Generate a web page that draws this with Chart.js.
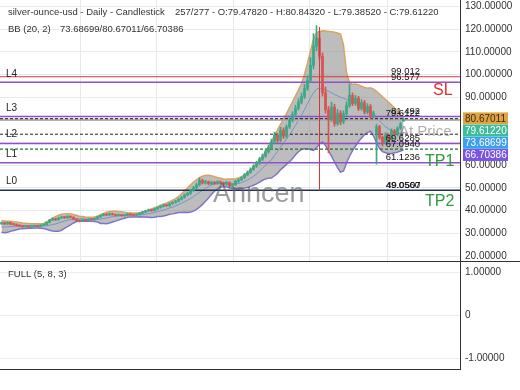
<!DOCTYPE html>
<html>
<head>
<meta charset="utf-8">
<script src="https://cdn.jsdelivr.net/npm/chart.js@4.4.1/dist/chart.umd.min.js"></script>
<style>
  html, body { margin: 0; padding: 0; background: #fff; }
  #wrap { position: relative; width: 520px; height: 390px; overflow: hidden; }
  #main { position: absolute; left: 0; top: 0; }
  #osc { position: absolute; left: 0; top: 262px; }
</style>
</head>
<body>
<div id="wrap">
  <canvas id="main" width="520" height="262"></canvas>
  <canvas id="osc" width="520" height="128"></canvas>
</div>
<script>
// candles, one per slot (oldest first)
const opens = [
  34.3, 34.6, 34.2, 34.8, 34.1, 33.9, 33.5, 33.2, 32.9, 33.1,
  32.8, 33.0, 33.3, 33.1, 33.6, 33.9, 34.8, 35.9, 36.4, 36.0,
  36.8, 37.2, 36.9, 37.5, 37.1, 36.3, 35.6, 35.4, 35.9, 35.7,
  36.2, 36.0, 36.6, 37.3, 37.9, 38.4, 38.1, 38.6, 38.3, 37.9,
  38.2, 37.8, 38.1, 38.5, 38.2, 38.0, 38.4, 38.9, 39.4, 39.9,
  40.3, 40.1, 40.8, 41.4, 41.9, 42.5, 42.2, 43.1, 43.6, 44.2,
  45.0, 45.8, 46.9, 47.6, 48.9, 50.1, 51.3, 53.4, 52.2, 52.8,
  51.9, 52.5, 52.0, 52.7, 52.3, 51.6, 52.4, 50.8, 51.5, 52.9,
  53.6, 54.5, 55.8, 56.9, 58.2, 59.6, 61.0, 62.7, 64.1, 66.0,
  67.8, 70.5, 73.2, 71.0, 75.4, 72.8, 76.9, 79.8, 82.4, 85.1,
  87.9, 90.3, 93.8, 97.5, 104.0, 112.5, 116.0, 108.0, 92.0, 84.5,
  80.2, 85.6, 78.4, 83.0, 79.1, 82.7, 86.4, 90.8, 87.2, 89.5,
  85.0, 87.6, 83.4, 85.9, 81.5, 74.0, 77.0, 72.3, 70.1, 73.5,
  71.8, 75.2, 73.6, 76.4, 79.4782
];
const highs = [
  35.0, 34.9, 35.1, 35.0, 34.4, 34.2, 33.8, 33.5, 33.4, 33.3,
  33.3, 33.6, 33.6, 33.9, 34.2, 35.1, 36.2, 36.9, 36.7, 37.1,
  37.6, 37.5, 37.8, 37.7, 37.3, 36.5, 35.9, 36.3, 36.1, 36.5,
  36.5, 36.9, 37.6, 38.2, 38.8, 38.7, 39.0, 38.9, 38.5, 38.5,
  38.4, 38.4, 38.9, 38.7, 38.4, 38.7, 39.2, 39.7, 40.2, 40.7,
  40.6, 41.1, 41.7, 42.3, 42.9, 42.8, 43.5, 44.0, 44.6, 45.5,
  46.3, 47.4, 48.1, 49.4, 50.7, 52.0, 54.6, 53.9, 53.4, 53.1,
  53.0, 52.9, 53.2, 53.1, 52.6, 52.9, 52.7, 51.9, 53.4, 54.1,
  55.0, 56.4, 57.5, 58.9, 60.3, 61.8, 63.5, 65.0, 66.9, 68.9,
  71.5, 74.6, 74.0, 76.8, 76.5, 77.8, 80.9, 83.6, 86.5, 89.3,
  91.8, 95.6, 99.4, 107.5, 118.0, 121.5, 119.0, 109.5, 94.5, 86.0,
  87.8, 86.9, 84.6, 84.1, 84.0, 88.0, 95.8, 91.9, 90.8, 90.4,
  88.9, 88.6, 87.2, 86.8, 83.9, 78.0, 77.6, 72.9, 74.4, 74.0,
  76.1, 75.8, 77.0, 78.9, 80.8432
];
const lows = [
  33.9, 33.9, 33.9, 33.8, 33.6, 33.2, 32.9, 32.6, 32.7, 32.5,
  32.6, 32.8, 32.9, 32.9, 33.4, 33.7, 34.6, 35.6, 35.7, 35.8,
  36.6, 36.6, 36.6, 36.8, 36.0, 35.3, 35.1, 35.2, 35.4, 35.5,
  35.8, 35.8, 36.4, 37.0, 37.7, 37.8, 37.9, 38.0, 37.6, 37.6,
  37.5, 37.5, 37.8, 37.9, 37.7, 37.7, 38.1, 38.6, 39.1, 39.6,
  39.7, 39.8, 40.5, 41.1, 41.6, 41.9, 41.9, 42.8, 43.3, 43.9,
  44.7, 45.5, 46.5, 47.2, 48.5, 49.7, 50.9, 51.7, 51.7, 51.4,
  51.4, 51.6, 51.6, 51.9, 51.1, 51.2, 50.2, 50.3, 51.1, 52.5,
  53.2, 54.1, 55.3, 56.4, 57.7, 59.1, 60.4, 62.1, 63.5, 65.3,
  67.1, 69.6, 70.1, 70.4, 71.8, 72.0, 76.2, 79.0, 81.6, 84.3,
  87.0, 89.4, 92.9, 96.5, 102.5, 110.5, 106.5, 90.5, 83.0, 65.5,
  79.3, 77.2, 77.6, 77.9, 78.3, 81.9, 85.5, 86.3, 86.4, 84.1,
  84.3, 82.6, 82.7, 80.6, 80.8, 60.5, 71.5, 68.5, 69.4, 70.9,
  71.0, 72.8, 72.9, 75.8, 79.3852
];
const closes = [
  34.6, 34.2, 34.8, 34.1, 33.9, 33.5, 33.2, 32.9, 33.1, 32.8,
  33.0, 33.3, 33.1, 33.6, 33.9, 34.8, 35.9, 36.4, 36.0, 36.8,
  37.2, 36.9, 37.5, 37.1, 36.3, 35.6, 35.4, 35.9, 35.7, 36.2,
  36.0, 36.6, 37.3, 37.9, 38.4, 38.1, 38.6, 38.3, 37.9, 38.2,
  37.8, 38.1, 38.5, 38.2, 38.0, 38.4, 38.9, 39.4, 39.9, 40.3,
  40.1, 40.8, 41.4, 41.9, 42.5, 42.2, 43.1, 43.6, 44.2, 45.0,
  45.8, 46.9, 47.6, 48.9, 50.1, 51.3, 53.4, 52.2, 52.8, 51.9,
  52.5, 52.0, 52.7, 52.3, 51.6, 52.4, 50.8, 51.5, 52.9, 53.6,
  54.5, 55.8, 56.9, 58.2, 59.6, 61.0, 62.7, 64.1, 66.0, 67.8,
  70.5, 73.2, 71.0, 75.4, 72.8, 76.9, 79.8, 82.4, 85.1, 87.9,
  90.3, 93.8, 97.5, 104.0, 112.5, 116.0, 108.0, 92.0, 84.5, 80.2,
  85.6, 78.4, 83.0, 79.1, 82.7, 86.4, 90.8, 87.2, 89.5, 85.0,
  87.6, 83.4, 85.9, 81.5, 82.8, 77.0, 72.3, 70.1, 73.5, 71.8,
  75.2, 73.6, 76.4, 78.2, 79.6122
];

// Bollinger (20, 2)
const bbUpper = [
  35.6, 35.5, 35.4, 35.3, 35.1, 35.0, 34.8, 34.6, 34.5, 34.4,
  34.3, 34.3, 34.3, 34.3, 34.4, 35.0, 35.8, 36.7, 37.4, 38.0,
  38.4, 38.6, 38.7, 38.6, 38.3, 38.0, 37.6, 37.4, 37.2, 37.1,
  37.1, 37.2, 37.6, 38.2, 38.8, 39.3, 39.6, 39.8, 39.8, 39.7,
  39.5, 39.3, 39.1, 39.0, 39.0, 39.0, 39.1, 39.4, 39.8, 40.3,
  40.8, 41.3, 41.8, 42.4, 42.9, 43.4, 44.0, 44.6, 45.3, 46.2,
  47.4, 48.7, 50.0, 51.4, 52.6, 53.6, 54.6, 55.2, 55.6, 55.6,
  55.4, 55.0, 54.6, 54.3, 54.0, 53.9, 54.0, 54.0, 54.1, 54.4,
  55.0, 55.8, 56.8, 57.9, 59.2, 60.6, 62.2, 64.0, 66.0, 68.2,
  70.6, 73.2, 75.6, 78.0, 80.4, 82.8, 85.4, 88.0, 90.6, 93.2,
  96.0, 100.0, 105.0, 110.5, 115.5, 118.5, 119.0, 119.3, 119.2, 119.0,
  118.8, 118.6, 118.3, 117.8, 113.0, 101.0, 96.5, 95.6, 95.8, 95.4,
  94.8, 94.3, 94.0, 94.2, 93.6, 92.6, 91.4, 90.2, 89.0, 87.9,
  86.6, 85.2, 83.8, 82.2, 80.67011
];
const bbMiddle = [
  32.8, 32.8, 32.9, 33.0, 33.1, 33.2, 33.3, 33.4, 33.4, 33.4,
  33.4, 33.4, 33.3, 33.3, 33.3, 33.4, 33.6, 33.9, 34.2, 34.6,
  35.0, 35.4, 35.8, 36.1, 36.3, 36.4, 36.4, 36.4, 36.3, 36.3,
  36.2, 36.2, 36.2, 36.3, 36.6, 36.8, 37.1, 37.4, 37.6, 37.8,
  37.9, 38.0, 38.1, 38.1, 38.1, 38.1, 38.2, 38.3, 38.5, 38.7,
  38.9, 39.2, 39.6, 39.9, 40.3, 40.7, 41.2, 41.6, 42.1, 42.7,
  43.3, 44.0, 44.6, 45.4, 46.2, 47.1, 48.1, 49.0, 49.9, 50.6,
  51.3, 51.8, 52.1, 52.3, 52.3, 52.2, 52.0, 51.9, 52.0, 52.0,
  52.4, 52.9, 53.5, 54.3, 55.2, 56.2, 57.4, 58.7, 60.0, 61.3,
  62.5, 64.3, 66.0, 68.0, 69.8, 71.6, 73.5, 75.5, 77.6, 79.8,
  82.0, 84.5, 87.2, 89.8, 92.0, 93.5, 94.0, 93.8, 93.3, 92.6,
  91.9, 91.2, 90.6, 90.0, 89.5, 89.0, 88.6, 88.2, 87.7, 87.2,
  86.6, 85.9, 85.0, 84.0, 83.0, 81.0, 79.6, 78.2, 77.0, 76.0,
  75.3, 74.7, 74.2, 73.9, 73.68699
];
const bbLower = [
  30.5, 30.3, 30.5, 30.9, 31.3, 31.6, 31.9, 32.1, 32.2, 32.3,
  32.3, 32.4, 32.4, 32.3, 32.2, 31.8, 31.4, 31.1, 30.9, 30.9,
  31.4, 32.2, 33.0, 33.8, 34.6, 35.2, 35.3, 35.4, 35.5, 35.4,
  35.3, 35.2, 35.0, 34.4, 34.4, 34.3, 34.6, 35.0, 35.4, 35.9,
  36.3, 36.7, 37.1, 37.2, 37.2, 37.2, 37.3, 37.2, 37.2, 37.1,
  37.0, 37.1, 37.4, 37.4, 37.7, 38.0, 38.4, 38.6, 38.9, 39.2,
  39.2, 39.3, 39.2, 39.4, 39.8, 40.6, 41.6, 42.8, 44.2, 45.6,
  47.2, 48.6, 49.6, 50.3, 50.6, 50.5, 50.0, 49.8, 49.9, 49.6,
  49.8, 50.0, 50.2, 50.7, 51.2, 51.8, 52.6, 53.4, 54.0, 54.4,
  54.4, 55.4, 56.4, 58.0, 59.2, 60.4, 61.6, 63.0, 64.6, 66.0,
  67.0, 67.3, 67.3, 67.0, 66.6, 67.8, 69.5, 70.3, 68.8, 66.5,
  64.0, 61.5, 59.0, 57.0, 57.5, 61.0, 64.0, 66.5, 68.5, 70.5,
  72.0, 73.5, 74.5, 75.0, 73.0, 70.0, 67.5, 66.0, 65.5, 65.2,
  65.2, 65.5, 65.8, 66.3, 66.70386
];

// horizontal levels drawn across the chart
const levelPrices = [99.012, 96.577, 81.492, 80.53, 73.687, 69.6285, 67.094, 61.1236, 49.056];
const levelColors = ['#d43a36', '#9150c9', '#9150c9', '#222', '#222', '#9150c9', '#2c6e2c', '#9150c9', '#22304e'];
const levelDashes = [[], [], [], [3, 2], [3, 2], [], [3, 2], [], []];
const levelWidths = [1, 1.5, 1.5, 1, 1, 1.5, 1.2, 1.5, 1.5];
const levelTexts = ['99.012', '96.577', '81.492', '79.6122', '', '69.6285', '67.0940', '61.1236', '49.0560'];
const zoneRange = [79.55, 80.53];
const levelNames = [['L4', 100.1], ['L3', 85.0], ['L2', 73.8], ['L1', 64.9], ['L0', 53.1]];
const zoneNames = [['SL', 92.7, '#e0302c'], ['TP1', 61.5, '#2f9a3e'], ['TP2', 43.8, '#2f9a3e']];
const markerIndex = 106;
const markerRange = [120.8, 49.056];

// price tags on the right axis
const tagValues = ['80.67011', '79.61220', '73.68699', '66.70386'];
const tagColors = ['#dea443', '#3cbd99', '#3b9ff0', '#7a55e4'];
const tagTextColors = ['#3a2a05', '#fff', '#fff', '#fff'];

const yTickValues = [20, 30, 40, 50, 60, 70, 80, 90, 100, 110, 120, 130];
const oscTickValues = [-1, 0, 1];
const xGridTicks = [26.17, 51.83, 77.17, 102.83, 128.5];
const fullK = [];

const xMin = -0.5, xMax = 152.83;
const FONT = '"Liberation Sans", Arial, sans-serif';
Chart.defaults.font.family = FONT;

const upColor = '#3aa886', downColor = '#d9534f';
const candleColors = closes.map((c, i) => c >= opens[i] ? upColor : downColor);

function flatLine(v) { return [{x: xMin, y: v}, {x: xMax, y: v}]; }
function series(arr) { return arr.map((v, i) => ({x: i, y: v})); }
// keep the axis from shrinking the plot to fit its edge labels
function fitRightAxis(s) { s.width = 60; s.paddingTop = 0; s.paddingBottom = 0; }

const datasets = [];
datasets.push({
  type: 'bar', data: closes.map((c, i) => ({x: i, y: [lows[i], highs[i]]})),
  backgroundColor: candleColors, barThickness: 1, grouped: false, order: 2
});
datasets.push({
  type: 'bar', data: closes.map((c, i) => ({x: i, y: [opens[i], c]})),
  backgroundColor: candleColors, barThickness: 2, minBarLength: 1, grouped: false, order: 1
});
// bands: upper filled down to lower
datasets.push({ type: 'line', data: series(bbLower), borderColor: '#7d6ee0', borderWidth: 1.5, pointRadius: 0, fill: false, order: 32 });
datasets.push({ type: 'line', data: series(bbUpper), borderColor: '#d8a560', borderWidth: 1.5, pointRadius: 0,
  fill: {target: 2}, backgroundColor: 'rgba(135,135,135,0.55)', order: 31 });
datasets.push({ type: 'line', data: series(bbMiddle), borderColor: '#6f93cf', borderWidth: 1, pointRadius: 0, fill: false, order: 30 });
// zone under the dashed level
datasets.push({ type: 'line', data: flatLine(zoneRange[0]), borderWidth: 0, pointRadius: 0, fill: false, order: 26 });
datasets.push({ type: 'line', data: flatLine(zoneRange[1]), borderWidth: 0, pointRadius: 0,
  fill: {target: datasets.length - 1}, backgroundColor: 'rgba(170,170,170,0.9)', order: 25 });
levelPrices.forEach((p, k) => {
  datasets.push({ type: 'line', data: flatLine(p), borderColor: levelColors[k], borderWidth: levelWidths[k],
    borderDash: levelDashes[k], pointRadius: 0, fill: false, order: 20 });
});
datasets.push({ type: 'line', data: markerRange.map(v => ({x: markerIndex, y: v})),
  borderColor: '#d0383a', borderWidth: 1, pointRadius: 0, fill: false, order: 0 });

const mainOverlay = {
  id: 'mainOverlay',
  afterDraw(chart) {
    const {ctx, scales: {y}} = chart;
    ctx.save();
    // watermark
    ctx.font = '27px ' + FONT;
    ctx.fillStyle = 'rgba(95,95,95,0.62)';
    ctx.textBaseline = 'alphabetic';
    ctx.textAlign = 'left';
    ctx.fillText('Anncen', 213, 202);

    // level names on the left
    ctx.font = '10px ' + FONT;
    ctx.fillStyle = '#222';
    ctx.textBaseline = 'middle';
    levelNames.forEach(([t, v]) => ctx.fillText(t, 6, y.getPixelForValue(v)));

    // level values
    ctx.textAlign = 'right';
    ctx.textBaseline = 'alphabetic';
    ctx.font = '9.5px ' + FONT;
    ctx.fillStyle = '#111';
    levelPrices.forEach((p, k) => {
      if (levelTexts[k]) ctx.fillText(levelTexts[k], 420, y.getPixelForValue(p) - 2.5);
    });
    ctx.fillText('49.0507', 420.5, y.getPixelForValue(levelPrices[8]) - 2.5);

    // SL / TP / At Price
    ctx.textAlign = 'left';
    ctx.textBaseline = 'middle';
    ctx.font = '16px ' + FONT;
    zoneNames.forEach(([t, v, c]) => {
      ctx.fillStyle = c;
      ctx.fillText(t, t === 'SL' ? 433 : 425, y.getPixelForValue(v));
    });
    ctx.font = '15px ' + FONT;
    ctx.fillStyle = 'rgba(110,110,110,0.55)';
    ctx.fillText('At Price', 399, y.getPixelForValue(74.7));

    // tags on the axis
    ctx.font = '10px ' + FONT;
    const top0 = y.getPixelForValue(parseFloat(tagValues[0])) - 6;
    tagValues.forEach((t, k) => {
      const ty = top0 + k * 12.2;
      ctx.fillStyle = tagColors[k];
      ctx.fillRect(463, ty, 45, 12);
      ctx.fillStyle = tagTextColors[k];
      ctx.fillText(t, 465, ty + 6.5);
    });

    // headers
    ctx.fillStyle = '#333';
    ctx.font = '9.5px ' + FONT;
    ctx.fillText('silver-ounce-usd - Daily - Candlestick', 8, 12.5);
    ctx.fillText('257/277 - O:79.47820 - H:80.84320 - L:79.38520 - C:79.61220', 175, 12.5);
    ctx.fillText('BB (20, 2)', 8, 29);
    ctx.fillText('73.68699/80.67011/66.70386', 60, 29);

    // panel separator
    ctx.strokeStyle = '#333';
    ctx.lineWidth = 1;
    ctx.beginPath();
    ctx.moveTo(0, 261.5);
    ctx.lineTo(520, 261.5);
    ctx.stroke();
    ctx.restore();
  }
};

new Chart(document.getElementById('main'), {
  type: 'bar',
  data: { datasets },
  options: {
    responsive: false,
    animation: false,
    events: [],
    layout: { padding: { top: 0, left: 0, right: 0, bottom: 1 } },
    plugins: { legend: { display: false }, tooltip: { enabled: false }, filler: { drawTime: 'beforeDatasetDraw' } },
    scales: {
      x: {
        type: 'linear', min: xMin, max: xMax, offset: false,
        ticks: { display: false },
        grid: { color: '#e9e9e9', drawTicks: false, offset: false },
        border: { display: false },
        afterBuildTicks: s => { s.ticks = xGridTicks.map(v => ({value: v})); }
      },
      y: {
        position: 'right', min: 17.84, max: 132.82,
        afterBuildTicks: s => { s.ticks = yTickValues.map(v => ({value: v})); },
        ticks: { callback: v => v.toFixed(5), color: '#333', font: { size: 10 }, padding: 5 },
        grid: { color: '#e9e9e9', drawTicks: false },
        border: { display: true, color: '#333', width: 1 },
        afterFit: fitRightAxis
      }
    }
  },
  plugins: [mainOverlay]
});

const oscOverlay = {
  id: 'oscOverlay',
  afterDraw(chart) {
    const {ctx} = chart;
    ctx.save();
    ctx.fillStyle = '#333';
    ctx.font = '9.5px ' + FONT;
    ctx.textBaseline = 'middle';
    ctx.fillText('FULL (5, 8, 3)', 8, 12);
    ctx.restore();
  }
};

new Chart(document.getElementById('osc'), {
  type: 'line',
  data: { datasets: [{ data: series(fullK), borderColor: '#3b9ff0', pointRadius: 0 }] },
  options: {
    responsive: false,
    animation: false,
    events: [],
    layout: { padding: { top: 0, left: 0, right: 0, bottom: 21 } },
    plugins: { legend: { display: false }, tooltip: { enabled: false } },
    scales: {
      x: {
        type: 'linear', min: xMin, max: xMax,
        ticks: { display: false },
        grid: { display: false, drawTicks: false },
        border: { display: true, color: '#333', width: 1 }
      },
      y: {
        position: 'right', min: -1.245, max: 1.245,
        afterBuildTicks: s => { s.ticks = oscTickValues.map(v => ({value: v})); },
        ticks: { callback: v => v === 0 ? '0' : v.toFixed(5), color: '#333', font: { size: 10 }, padding: 5 },
        grid: { color: '#ececec', drawTicks: false },
        border: { display: true, color: '#333', width: 1 },
        afterFit: fitRightAxis
      }
    }
  },
  plugins: [oscOverlay]
});
</script>
</body>
</html>
